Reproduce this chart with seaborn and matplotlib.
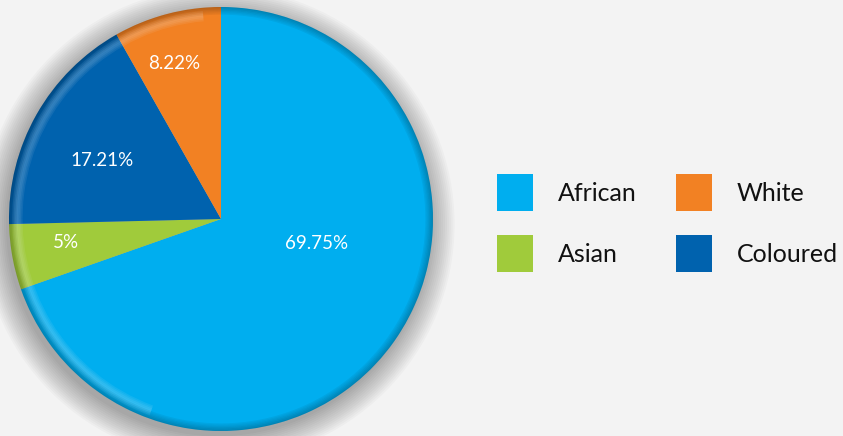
import seaborn as sns
import matplotlib.pyplot as plt
from matplotlib.patches import Patch, Circle, Wedge

groups = ['African', 'Asian', 'Coloured', 'White']
shares = [69.75, 5, 17.21, 8.22]
labels = ['69.75%', '5%', '17.21%', '8.22%']
colors = ['#00AEEF', '#A0CB3B', '#0062AE', '#F28123']
# label offsets inside the pie (radius = 1)
label_xy = [(0.45, -0.115), (-0.73, -0.11), (-0.56, 0.275), (-0.22, 0.735)]

sns.set_theme(style='white')
plt.rcParams['font.family'] = ['Lato', 'DejaVu Sans']

fig = plt.figure(figsize=(8.43, 4.36), dpi=100)
fig.patch.set_facecolor('#f3f3f3')

cx, cy, r = 221, 219, 212
W, H = 843, 436
ax = fig.add_axes([(cx - r) / W, (H - cy - r) / H, 2 * r / W, 2 * r / H])
ax.set_facecolor('none')

# soft drop shadow
for i in range(14):
    ax.add_patch(Circle((-0.015, -0.025), 1.0 + 0.009 * i, color='black',
                        alpha=0.022, lw=0, clip_on=False, zorder=0))

wedges, _ = ax.pie(shares, colors=colors, startangle=90, counterclock=False,
                   radius=1, wedgeprops=dict(linewidth=0))
for w in wedges:
    w.set_zorder(2)
    w.set_clip_on(False)

# bevel rim: dark outer edge, light band a little inside
for k in range(6):
    ax.add_patch(Wedge((0, 0), 1.0 - 0.006 * k, 0, 360, width=0.006,
                       color='black', alpha=0.24 - 0.038 * k, lw=0,
                       zorder=3, clip_on=False))
for k, a in enumerate([0.08, 0.14, 0.2, 0.22, 0.2, 0.14, 0.08]):
    ax.add_patch(Wedge((0, 0), 0.985 - 0.007 * k, 95, 250, width=0.007,
                       color='#e8eef4', alpha=a, lw=0, zorder=3, clip_on=False))

for (x, y), t in zip(label_xy, labels):
    ax.text(x, y, t, color='white', fontsize=13.5, ha='center', va='center', zorder=4)

ax.set_xlim(-1, 1)
ax.set_ylim(-1, 1)
ax.set_aspect('equal')
ax.axis('off')

handles = [Patch(facecolor=c, edgecolor='none') for c in colors]
order = [0, 1, 3, 2]
leg = fig.legend([handles[i] for i in order], [groups[i] for i in order],
                 ncol=2, loc='center left', bbox_to_anchor=(0.563, 0.488),
                 frameon=False, fontsize=18, handlelength=1.45, handleheight=1.9,
                 handletextpad=1.0, columnspacing=1.55, labelspacing=0.95)
for t in leg.get_texts():
    t.set_color('#111111')

fig.savefig('out.png', dpi=100, facecolor=fig.get_facecolor())
